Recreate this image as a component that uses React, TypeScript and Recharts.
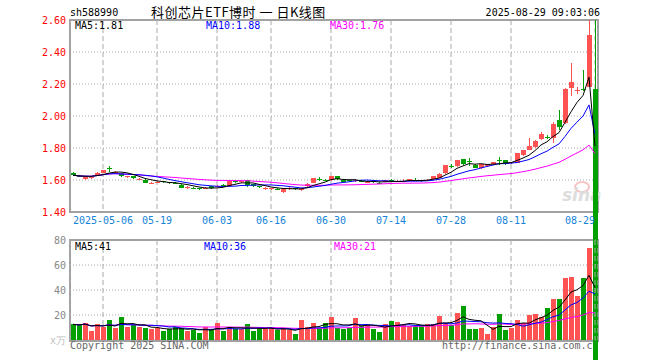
import React from "react";
import { ComposedChart, Bar, Line, XAxis, YAxis, CartesianGrid } from "recharts";

const dates = [
  "2025-04-24", "2025-04-25", "2025-04-28", "2025-04-29", "2025-04-30",
  "2025-05-06", "2025-05-07", "2025-05-08", "2025-05-09",
  "2025-05-12", "2025-05-13", "2025-05-14", "2025-05-15", "2025-05-16",
  "2025-05-19", "2025-05-20", "2025-05-21", "2025-05-22", "2025-05-23",
  "2025-05-26", "2025-05-27", "2025-05-28", "2025-05-29", "2025-05-30",
  "2025-06-03", "2025-06-04", "2025-06-05", "2025-06-06",
  "2025-06-09", "2025-06-10", "2025-06-11", "2025-06-12", "2025-06-13",
  "2025-06-16", "2025-06-17", "2025-06-18", "2025-06-19", "2025-06-20",
  "2025-06-23", "2025-06-24", "2025-06-25", "2025-06-26", "2025-06-27",
  "2025-06-30", "2025-07-01", "2025-07-02", "2025-07-03", "2025-07-04",
  "2025-07-07", "2025-07-08", "2025-07-09", "2025-07-10", "2025-07-11",
  "2025-07-14", "2025-07-15", "2025-07-16", "2025-07-17", "2025-07-18",
  "2025-07-21", "2025-07-22", "2025-07-23", "2025-07-24", "2025-07-25",
  "2025-07-28", "2025-07-29", "2025-07-30", "2025-07-31", "2025-08-01",
  "2025-08-04", "2025-08-05", "2025-08-06", "2025-08-07", "2025-08-08",
  "2025-08-11", "2025-08-12", "2025-08-13", "2025-08-14", "2025-08-15",
  "2025-08-18", "2025-08-19", "2025-08-20", "2025-08-21", "2025-08-22",
  "2025-08-25", "2025-08-26", "2025-08-27", "2025-08-28", "2025-08-29",
];

const opens = [
  1.645, 1.625, 1.605, 1.618, 1.63,
  1.646, 1.672, 1.648, 1.642,
  1.619, 1.625, 1.605, 1.603, 1.58,
  1.582, 1.591, 1.585, 1.581, 1.568,
  1.554, 1.552, 1.547, 1.545, 1.562,
  1.56, 1.568, 1.562, 1.592,
  1.585, 1.6, 1.575, 1.56, 1.546,
  1.544, 1.544, 1.527, 1.546, 1.55,
  1.542, 1.56, 1.58, 1.607, 1.603,
  1.6, 1.625, 1.601, 1.597, 1.594,
  1.596, 1.583, 1.593, 1.582, 1.589,
  1.602, 1.59, 1.59, 1.596, 1.602,
  1.6, 1.596, 1.604, 1.615, 1.644,
  1.688, 1.69, 1.729, 1.716, 1.694,
  1.673, 1.688, 1.7, 1.726, 1.725,
  1.706, 1.708, 1.756, 1.787, 1.804,
  1.856, 1.87, 1.86, 1.975, 1.954,
  2.173, 2.155, 2.17, 2.183, 2.17,
];

const closes = [
  1.63, 1.621, 1.62, 1.621, 1.646,
  1.66, 1.668, 1.652, 1.622,
  1.622, 1.611, 1.609, 1.584, 1.583,
  1.585, 1.588, 1.582, 1.578, 1.552,
  1.558, 1.549, 1.545, 1.548, 1.547,
  1.565, 1.566, 1.6, 1.586,
  1.592, 1.566, 1.564, 1.555, 1.549,
  1.547, 1.541, 1.543, 1.55, 1.543,
  1.546, 1.578, 1.61, 1.603, 1.597,
  1.625, 1.606, 1.586, 1.594, 1.598,
  1.588, 1.59, 1.587, 1.579, 1.598,
  1.596, 1.593, 1.593, 1.604, 1.599,
  1.595, 1.602, 1.625, 1.638, 1.692,
  1.684, 1.725, 1.7, 1.712, 1.673,
  1.7, 1.7, 1.71, 1.723, 1.7,
  1.71, 1.767, 1.787, 1.81, 1.845,
  1.887, 1.865, 1.95, 1.933, 2.167,
  2.215, 2.16, 2.165, 2.506, 0.01,
];

const highs = [
  1.65, 1.63, 1.624, 1.628, 1.648,
  1.663, 1.688, 1.658, 1.646,
  1.628, 1.628, 1.615, 1.606, 1.588,
  1.592, 1.596, 1.59, 1.586, 1.572,
  1.565, 1.556, 1.55, 1.555, 1.565,
  1.57, 1.575, 1.603, 1.598,
  1.596, 1.603, 1.578, 1.563, 1.555,
  1.552, 1.548, 1.546, 1.558, 1.553,
  1.552, 1.58, 1.612, 1.618, 1.606,
  1.628, 1.628, 1.604, 1.602, 1.606,
  1.6, 1.594, 1.596, 1.586, 1.601,
  1.605, 1.6, 1.606, 1.607, 1.61,
  1.603, 1.605, 1.628, 1.641, 1.695,
  1.698, 1.728, 1.732, 1.738, 1.698,
  1.703, 1.703, 1.714, 1.746, 1.728,
  1.714, 1.77, 1.79, 1.86, 1.848,
  1.9, 1.88, 1.964, 2.038, 2.172,
  2.33, 2.183, 2.29, 2.7, 2.7,
];

const lows = [
  1.625, 1.615, 1.602, 1.612, 1.628,
  1.642, 1.65, 1.644, 1.62,
  1.615, 1.608, 1.6, 1.58, 1.574,
  1.578, 1.582, 1.576, 1.572, 1.549,
  1.548, 1.543, 1.538, 1.54, 1.544,
  1.556, 1.561, 1.56, 1.58,
  1.582, 1.562, 1.56, 1.55, 1.538,
  1.538, 1.534, 1.524, 1.54, 1.54,
  1.536, 1.557, 1.578, 1.592, 1.594,
  1.598, 1.603, 1.583, 1.588, 1.59,
  1.585, 1.58, 1.584, 1.574, 1.586,
  1.593, 1.585, 1.586, 1.593, 1.594,
  1.592, 1.592, 1.601, 1.612, 1.64,
  1.672, 1.686, 1.697, 1.688, 1.67,
  1.67, 1.685, 1.697, 1.695, 1.697,
  1.7, 1.705, 1.752, 1.784, 1.8,
  1.852, 1.855, 1.833, 1.912, 1.95,
  2.125, 2.137, 2.16, 2.18, 0,
];

// 成交量（万）
const volumes = [
  12.5, 11.7, 13.9, 7.2, 12.5,
  10.7, 16.0, 9.3, 18.4,
  10.4, 11.7, 10.4, 9.9, 9.1,
  9.3, 7.2, 8.5, 10.4, 9.9,
  7.2, 8.0, 5.3, 10.7, 8.5,
  13.3, 7.2, 10.7, 9.1,
  8.5, 12.5, 7.2, 9.1, 9.1,
  9.9, 8.0, 8.5, 8.0, 4.5,
  15.7, 10.4, 13.3, 9.9, 13.3,
  18.7, 9.9, 8.5, 9.9, 17.3,
  11.2, 12.0, 8.8, 6.7, 12.8,
  15.5, 14.4, 12.0, 11.2, 11.2,
  11.2, 12.8, 12.8, 19.2, 12.5,
  12.0, 21.9, 27.2, 9.0, 8.8,
  9.9, 4.8, 10.1, 20.8, 8.0,
  9.9, 16.0, 13.3, 20.0, 21.1,
  18.7, 25.9, 32.8, 32.8, 49.9,
  50.4, 35.2, 49.3, 73.9, 0.3,
];

const tickDates = [
  "2025-05-06", "2025-05-19", "2025-06-03", "2025-06-16", "2025-06-30",
  "2025-07-14", "2025-07-28", "2025-08-11", "2025-08-29",
];
const priceTicks = [1.4, 1.6, 1.8, 2.0, 2.2, 2.4, 2.6];
const volumeTicks = [0, 20, 40, 60, 80];
const priceMaLabels = ["MA5:1.81", "MA10:1.88", "MA30:1.76"];
const volumeMaLabels = ["MA5:41", "MA10:36", "MA30:21"];

const PRICE_MIN = 1.4;
const PRICE_MAX = 2.6;
const UP = "#ff5252";
const DOWN = "#00a000";
const MA_COLORS = ["#000000", "#0000ff", "#ff00ff"];
const MONO = "'DejaVu Sans Mono', monospace";
const GRID = "#aaaaaa";

function movingAverage(values: number[], n: number) {
  return values.map((_, i) => {
    const win = values.slice(Math.max(0, i - n + 1), i + 1);
    return win.reduce((a, b) => a + b, 0) / win.length;
  });
}

const ma5 = movingAverage(closes, 5);
const ma10 = movingAverage(closes, 10);
const ma30 = movingAverage(closes, 30);
const vma5 = movingAverage(volumes, 5);
const vma10 = movingAverage(volumes, 10);
const vma30 = movingAverage(volumes, 30);

const rows = dates.map((date, i) => ({
  date,
  open: opens[i],
  close: closes[i],
  // wick range kept inside the axis; the body may run past it
  span: [Math.max(lows[i], PRICE_MIN), Math.min(highs[i], PRICE_MAX)],
  vol: volumes[i],
  ma5: ma5[i],
  ma10: ma10[i],
  ma30: ma30[i],
  vma5: vma5[i],
  vma10: vma10[i],
  vma30: vma30[i],
}));

function Candle(props: any) {
  let { x, y, width, height } = props;
  const p = props.payload;
  if (height < 0) {
    y += height;
    height = -height;
  }
  const [lo, hi] = p.span;
  const k = hi > lo ? height / (hi - lo) : 0;
  const py = (v: number) => y + (hi - v) * k;
  const color = p.close >= p.open ? UP : DOWN;
  const left = Math.round(x);
  const w = Math.round(width);
  const mid = left + Math.floor(w / 2);
  const top = Math.round(py(Math.max(p.open, p.close)));
  const bot = Math.round(py(Math.min(p.open, p.close)));
  return (
    <g shapeRendering="crispEdges">
      <rect x={mid} y={Math.round(y)} width={1} height={Math.max(1, Math.round(height))} fill={color} />
      <rect x={left} y={top} width={w} height={Math.max(1, bot - top)} fill={color} />
    </g>
  );
}

function VolumeBar(props: any) {
  const { x, y, width, height, payload } = props;
  const color = payload.close >= payload.open ? UP : DOWN;
  return (
    <rect
      x={Math.round(x)}
      y={Math.round(y)}
      width={Math.round(width)}
      height={Math.max(0, Math.round(height))}
      fill={color}
      shapeRendering="crispEdges"
    />
  );
}

function DateTick(props: any) {
  const { x, y, payload } = props;
  const v: string = payload.value;
  const first = v === tickDates[0];
  const last = v === tickDates[tickDates.length - 1];
  return (
    <text
      x={x}
      y={y + 10}
      textAnchor={last ? "end" : "middle"}
      fill="#1583d8"
      fontSize={10}
      fontFamily={MONO}
    >
      {first ? v : v.slice(5)}
    </text>
  );
}

function VolumeTick(props: any) {
  const { x, y, payload } = props;
  const zero = payload.value === 0;
  return (
    <text
      x={x}
      y={y}
      dy="0.35em"
      textAnchor="end"
      fill={zero ? "#c0c0c0" : "#888888"}
      fontSize={10}
      fontFamily={MONO}
    >
      {zero ? "x万" : payload.value}
    </text>
  );
}

const abs = (s: React.CSSProperties): React.CSSProperties => ({ position: "absolute", whiteSpace: "nowrap", ...s });

export default function App() {
  return (
    <div
      style={{
        position: "absolute",
        left: 0,
        top: 0,
        width: 660,
        height: 360,
        overflow: "hidden",
        background: "#ffffff",
        fontFamily: MONO,
        fontSize: 10,
        lineHeight: "12px",
      }}
    >
      <style>{".recharts-surface{overflow:visible}"}</style>

      <div style={abs({ left: 70, top: 7 })}>sh588990</div>
      <div
        style={abs({
          left: 151,
          top: 4,
          fontFamily: "'Noto Sans CJK SC', sans-serif",
          fontSize: 13,
          lineHeight: "16px",
          letterSpacing: 0.5,
        })}
      >
        科创芯片ETF博时 一 日K线图
      </div>
      <div style={abs({ right: 60, top: 7 })}>2025-08-29 09:03:06</div>

      <div style={abs({ left: 69, top: 19, width: 530, height: 194, border: "2px solid #a0a0a0", boxSizing: "border-box" })} />
      <div style={abs({ left: 69, top: 239, width: 530, height: 103, border: "2px solid #a0a0a0", boxSizing: "border-box" })} />

      <div
        style={abs({
          left: 574,
          top: 181,
          width: 12,
          height: 8,
          borderRadius: "50%",
          border: "2px solid #f6c4c4",
        })}
      />
      <div
        style={abs({
          left: 562,
          top: 186,
          fontFamily: "'DejaVu Sans', sans-serif",
          fontSize: 17,
          fontWeight: 700,
          fontStyle: "italic",
          color: "#dddddd",
          lineHeight: "18px",
        })}
      >
        sina
      </div>

      <div style={abs({ left: 70, top: 340, color: "#666666" })}>Copyright 2025 SINA.COM</div>
      <div style={abs({ left: 442, top: 340, color: "#666666" })}>http://finance.sina.com.cn</div>

      <div style={abs({ left: 0, top: 0 })}>
        <ComposedChart width={660} height={230} data={rows} margin={{ top: 20, right: 62, bottom: 0, left: 0 }}>
          <CartesianGrid vertical={false} stroke={GRID} strokeDasharray="1 2" />
          <CartesianGrid horizontal={false} stroke={GRID} strokeDasharray="5 3" />
          <XAxis
            dataKey="date"
            ticks={tickDates}
            interval={0}
            height={18}
            axisLine={false}
            tickLine={false}
            tickSize={0}
            tickMargin={2}
            tick={<DateTick />}
          />
          <YAxis
            type="number"
            domain={[PRICE_MIN, PRICE_MAX]}
            ticks={priceTicks}
            interval={0}
            width={70}
            axisLine={false}
            tickLine={false}
            tickSize={0}
            tickMargin={4}
            tick={{ fill: "#ff0000", fontSize: 10, fontFamily: MONO }}
            tickFormatter={(v: number) => v.toFixed(2)}
          />
          <Bar dataKey="span" barSize={5} shape={<Candle />} isAnimationActive={false} />
          <Line dataKey="ma30" stroke={MA_COLORS[2]} strokeWidth={1} dot={false} isAnimationActive={false} />
          <Line dataKey="ma10" stroke={MA_COLORS[1]} strokeWidth={1} dot={false} isAnimationActive={false} />
          <Line dataKey="ma5" stroke={MA_COLORS[0]} strokeWidth={1} dot={false} isAnimationActive={false} />
        </ComposedChart>
      </div>

      <div style={abs({ left: 0, top: 230 })}>
        <ComposedChart width={660} height={130} data={rows} margin={{ top: 10, right: 62, bottom: 20, left: 0 }}>
          <CartesianGrid vertical={false} stroke={GRID} strokeDasharray="1 2" />
          <CartesianGrid horizontal={false} stroke={GRID} strokeDasharray="5 3" />
          <XAxis dataKey="date" ticks={tickDates} interval={0} hide />
          <YAxis
            type="number"
            domain={[0, 80]}
            ticks={volumeTicks}
            interval={0}
            width={70}
            axisLine={false}
            tickLine={false}
            tickSize={0}
            tickMargin={4}
            tick={<VolumeTick />}
          />
          <Bar dataKey="vol" barSize={5} shape={<VolumeBar />} isAnimationActive={false} />
          <Line dataKey="vma30" stroke={MA_COLORS[2]} strokeWidth={1} dot={false} isAnimationActive={false} />
          <Line dataKey="vma10" stroke={MA_COLORS[1]} strokeWidth={1} dot={false} isAnimationActive={false} />
          <Line dataKey="vma5" stroke={MA_COLORS[0]} strokeWidth={1} dot={false} isAnimationActive={false} />
        </ComposedChart>
      </div>

      <div style={abs({ left: 75, top: 20, color: MA_COLORS[0] })}>{priceMaLabels[0]}</div>
      <div style={abs({ left: 206, top: 20, color: MA_COLORS[1] })}>{priceMaLabels[1]}</div>
      <div style={abs({ left: 330, top: 20, color: MA_COLORS[2] })}>{priceMaLabels[2]}</div>
      <div style={abs({ left: 75, top: 241, color: MA_COLORS[0] })}>{volumeMaLabels[0]}</div>
      <div style={abs({ left: 204, top: 241, color: MA_COLORS[1] })}>{volumeMaLabels[1]}</div>
      <div style={abs({ left: 334, top: 241, color: MA_COLORS[2] })}>{volumeMaLabels[2]}</div>
    </div>
  );
}
